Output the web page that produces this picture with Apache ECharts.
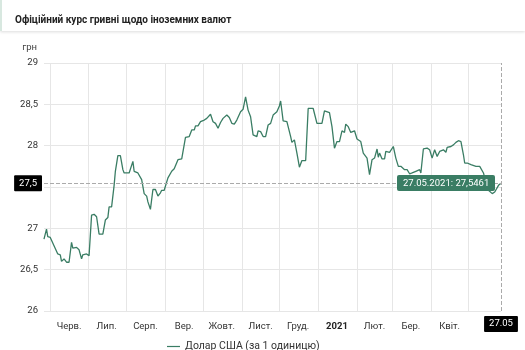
<!DOCTYPE html>
<html><head><meta charset="utf-8">
<script src="https://cdn.jsdelivr.net/npm/echarts@6/dist/echarts.min.js"></script>
<style>html,body{margin:0;padding:0;background:#fff}#c{width:525px;height:350px}</style>
</head><body><div id="c"></div>
<script>
const dates = ['2020-05-27','2020-05-29','2020-05-30','2020-06-01','2020-06-04','2020-06-07','2020-06-09','2020-06-10','2020-06-12','2020-06-14','2020-06-16','2020-06-18','2020-06-19','2020-06-22','2020-06-24','2020-06-26','2020-06-27','2020-06-30',
'2020-07-02','2020-07-04','2020-07-06','2020-07-08','2020-07-10','2020-07-13','2020-07-15','2020-07-17','2020-07-18','2020-07-20','2020-07-22','2020-07-23','2020-07-25','2020-07-27','2020-07-29','2020-07-30',
'2020-08-03','2020-08-06','2020-08-07','2020-08-10','2020-08-13','2020-08-15','2020-08-17','2020-08-18','2020-08-20','2020-08-22','2020-08-24','2020-08-26','2020-08-28','2020-08-29','2020-08-31',
'2020-09-03','2020-09-06','2020-09-08','2020-09-11','2020-09-14','2020-09-17','2020-09-20','2020-09-22','2020-09-24','2020-09-25','2020-09-27','2020-09-29',
'2020-10-02','2020-10-04','2020-10-07','2020-10-09','2020-10-11','2020-10-13','2020-10-15','2020-10-17','2020-10-20','2020-10-22','2020-10-24','2020-10-26','2020-10-28','2020-10-31',
'2020-11-02','2020-11-04','2020-11-06','2020-11-08','2020-11-10','2020-11-13','2020-11-14','2020-11-16','2020-11-18','2020-11-20','2020-11-22','2020-11-24','2020-11-26','2020-11-29',
'2020-12-01','2020-12-02','2020-12-04','2020-12-07','2020-12-10','2020-12-11','2020-12-13','2020-12-15','2020-12-17','2020-12-19','2020-12-22','2020-12-24','2020-12-28','2020-12-31',
'2021-01-04','2021-01-06','2021-01-10','2021-01-12','2021-01-14','2021-01-16','2021-01-18','2021-01-20','2021-01-22','2021-01-23','2021-01-25','2021-01-27','2021-01-30',
'2021-02-01','2021-02-04','2021-02-06','2021-02-09','2021-02-11','2021-02-13','2021-02-15','2021-02-17','2021-02-18','2021-02-19','2021-02-21','2021-02-23','2021-02-24','2021-02-27','2021-02-28',
'2021-03-02','2021-03-04','2021-03-06','2021-03-08','2021-03-11','2021-03-13','2021-03-15','2021-03-17','2021-03-20','2021-03-23','2021-03-24','2021-03-26','2021-03-29','2021-03-31',
'2021-04-02','2021-04-03','2021-04-04','2021-04-06','2021-04-08','2021-04-09','2021-04-11','2021-04-13','2021-04-14','2021-04-17','2021-04-19','2021-04-21','2021-04-23','2021-04-25','2021-04-27','2021-04-28','2021-04-30',
'2021-05-03','2021-05-07','2021-05-10','2021-05-11','2021-05-13','2021-05-15','2021-05-17','2021-05-20','2021-05-22','2021-05-25','2021-05-27'];
const usdRates = [26.87,26.99,26.90,26.89,26.79,26.69,26.68,26.60,26.63,26.59,26.59,26.83,26.76,26.77,26.74,26.63,26.68,26.69,
26.67,27.16,27.17,27.14,26.93,26.93,27.10,27.13,27.26,27.26,27.52,27.69,27.88,27.88,27.71,27.67,
27.67,27.81,27.69,27.67,27.59,27.42,27.39,27.32,27.23,27.47,27.47,27.39,27.43,27.46,27.46,
27.61,27.69,27.72,27.83,27.84,28.10,28.11,28.19,28.19,28.24,28.24,28.29,
28.31,28.33,28.38,28.29,28.27,28.21,28.28,28.33,28.37,28.34,28.27,28.26,28.31,28.41,
28.44,28.59,28.43,28.35,28.13,28.11,28.18,28.17,28.11,28.11,28.25,28.27,28.37,28.41,
28.48,28.54,28.30,28.29,28.11,28.04,28.07,27.91,27.74,27.82,27.82,28.45,28.45,28.27,
28.27,28.42,28.40,28.23,27.97,28.05,28.05,28.18,28.16,28.26,28.23,28.16,28.18,
28.08,28.05,27.91,27.85,27.65,27.83,27.85,27.96,27.86,27.91,27.84,27.84,27.93,27.92,27.94,
27.99,27.85,27.75,27.75,27.71,27.71,27.66,27.67,27.69,27.71,27.67,27.96,27.97,27.95,
27.85,27.85,27.95,27.87,27.93,27.91,27.95,27.92,27.98,27.99,28.01,28.04,28.06,28.05,27.89,27.79,27.79,
27.77,27.75,27.75,27.77,27.67,27.55,27.46,27.42,27.44,27.52,27.5461];
const monthStarts = ['2020-06-01','2020-07-01','2020-08-01','2020-09-01','2020-10-01','2020-11-01','2020-12-01','2021-01-01','2021-02-01','2021-03-01','2021-04-01','2021-05-01'];
const monthLabelDates = ['2020-06-16','2020-07-16','2020-08-16','2020-09-16','2020-10-16','2020-11-16','2020-12-16','2021-01-16','2021-02-15','2021-03-16','2021-04-16'];
const monthLabels = ['Черв.','Лип.','Серп.','Вер.','Жовт.','Лист.','Груд.','2021','Лют.','Бер.','Квіт.'];
const seriesName = 'Долар США (за 1 одиницю)';
const titleText = 'Офіційний курс гривні щодо іноземних валют';

const ts = s => { const p = s.split('-').map(Number); return new Date(p[0], p[1] - 1, p[2]).getTime(); };
const labelMap = {};
monthLabelDates.forEach((d, i) => { labelMap[ts(d)] = monthLabels[i]; });
const pad = n => (n < 10 ? '0' : '') + n;
const green = '#3a7d64';
const chart = echarts.init(document.getElementById('c'));
chart.setOption({
  animation: false,
  textStyle: { fontFamily: 'Roboto' },
  graphic: [
    { type: 'rect', shape: { x: 0, y: 0, width: 525, height: 31 }, style: { fill: '#fff', shadowColor: 'rgba(0,0,0,0.14)', shadowBlur: 3, shadowOffsetY: 1 }, z: 0 },
    { type: 'rect', shape: { x: 0, y: 0, width: 2, height: 31 }, style: { fill: '#d8e8e0' }, z: 1 }
  ],
  title: { text: titleText, left: 10, top: 10, textStyle: { fontSize: 10, fontWeight: 'bold', color: '#222', fontFamily: 'Roboto' } },
  legend: {
    top: 336, left: 162, itemWidth: 13, itemHeight: 8, itemGap: 6,
    textStyle: { fontSize: 10.5, color: '#333' },
    data: [{ name: seriesName, icon: 'path://M0,3.4H13V4.6H0Z' }]
  },
  grid: { left: 44, right: 24, top: 63, bottom: 39 },
  tooltip: {
    trigger: 'axis', triggerOn: 'none', alwaysShowContent: true,
    position: (pt, params, dom, rect, size) => [pt[0] - size.contentSize[0] - 6, pt[1] - size.contentSize[1] / 2],
    backgroundColor: green, borderColor: green, borderWidth: 0, borderRadius: 2,
    padding: [2, 6], textStyle: { color: '#fff', fontSize: 9.5, lineHeight: 12 },
    extraCssText: 'box-shadow:none;',
    formatter: ps => {
      const p = ps[0]; const d = new Date(p.value[0]);
      return pad(d.getDate()) + '.' + pad(d.getMonth() + 1) + '.' + d.getFullYear() + ': ' + String(p.value[1]).replace('.', ',');
    },
    axisPointer: {
      type: 'cross',
      lineStyle: { color: '#aaa', type: 'dashed', width: 1 },
      crossStyle: { color: '#aaa', type: 'dashed', width: 1 },
      label: { backgroundColor: '#000', color: '#fff', fontSize: 9.5, padding: [3, 5], borderRadius: 1 }
    }
  },
  xAxis: {
    type: 'value', min: ts(dates[0]), max: ts(dates[dates.length - 1]),
    axisLine: { show: false },
    axisTick: { show: false, customValues: monthStarts.map(ts) },
    splitLine: { show: true, lineStyle: { color: '#e6e6e6' } },
    axisLabel: {
      customValues: monthLabelDates.map(ts), margin: 11, fontSize: 9.5, color: '#333',
      formatter: v => { const t = labelMap[v] || ''; return t === '2021' ? '{b|2021}' : t; },
      rich: { b: { fontWeight: 'bold', fontSize: 9.5, color: '#222' } }
    },
    axisPointer: { label: { margin: 5, formatter: p => { const d = new Date(p.value); return pad(d.getDate()) + '.' + pad(d.getMonth() + 1); } } }
  },
  yAxis: {
    type: 'value', min: 26, max: 29, interval: 0.5,
    name: 'грн', nameLocation: 'end', nameGap: 10,
    nameTextStyle: { fontSize: 9.5, color: '#444', align: 'right', padding: [0, 7, 0, 0] },
    axisLine: { show: false }, axisTick: { show: false },
    splitLine: { lineStyle: { color: '#e6e6e6' } },
    axisLabel: { fontSize: 9.5, color: '#333', margin: 6, formatter: v => String(v).replace('.', ',') },
    axisPointer: { label: { margin: 2, formatter: p => (Math.round(p.value * 10) / 10).toFixed(1).replace('.', ',') } }
  },
  series: [{
    name: seriesName, type: 'line', showSymbol: false, symbol: 'none',
    data: dates.map((d, i) => [ts(d), usdRates[i]]),
    lineStyle: { color: green, width: 1.3 }, itemStyle: { color: green },
    emphasis: { disabled: true }
  }]
});
chart.dispatchAction({ type: 'showTip', seriesIndex: 0, dataIndex: dates.length - 1 });
</script></body></html>
